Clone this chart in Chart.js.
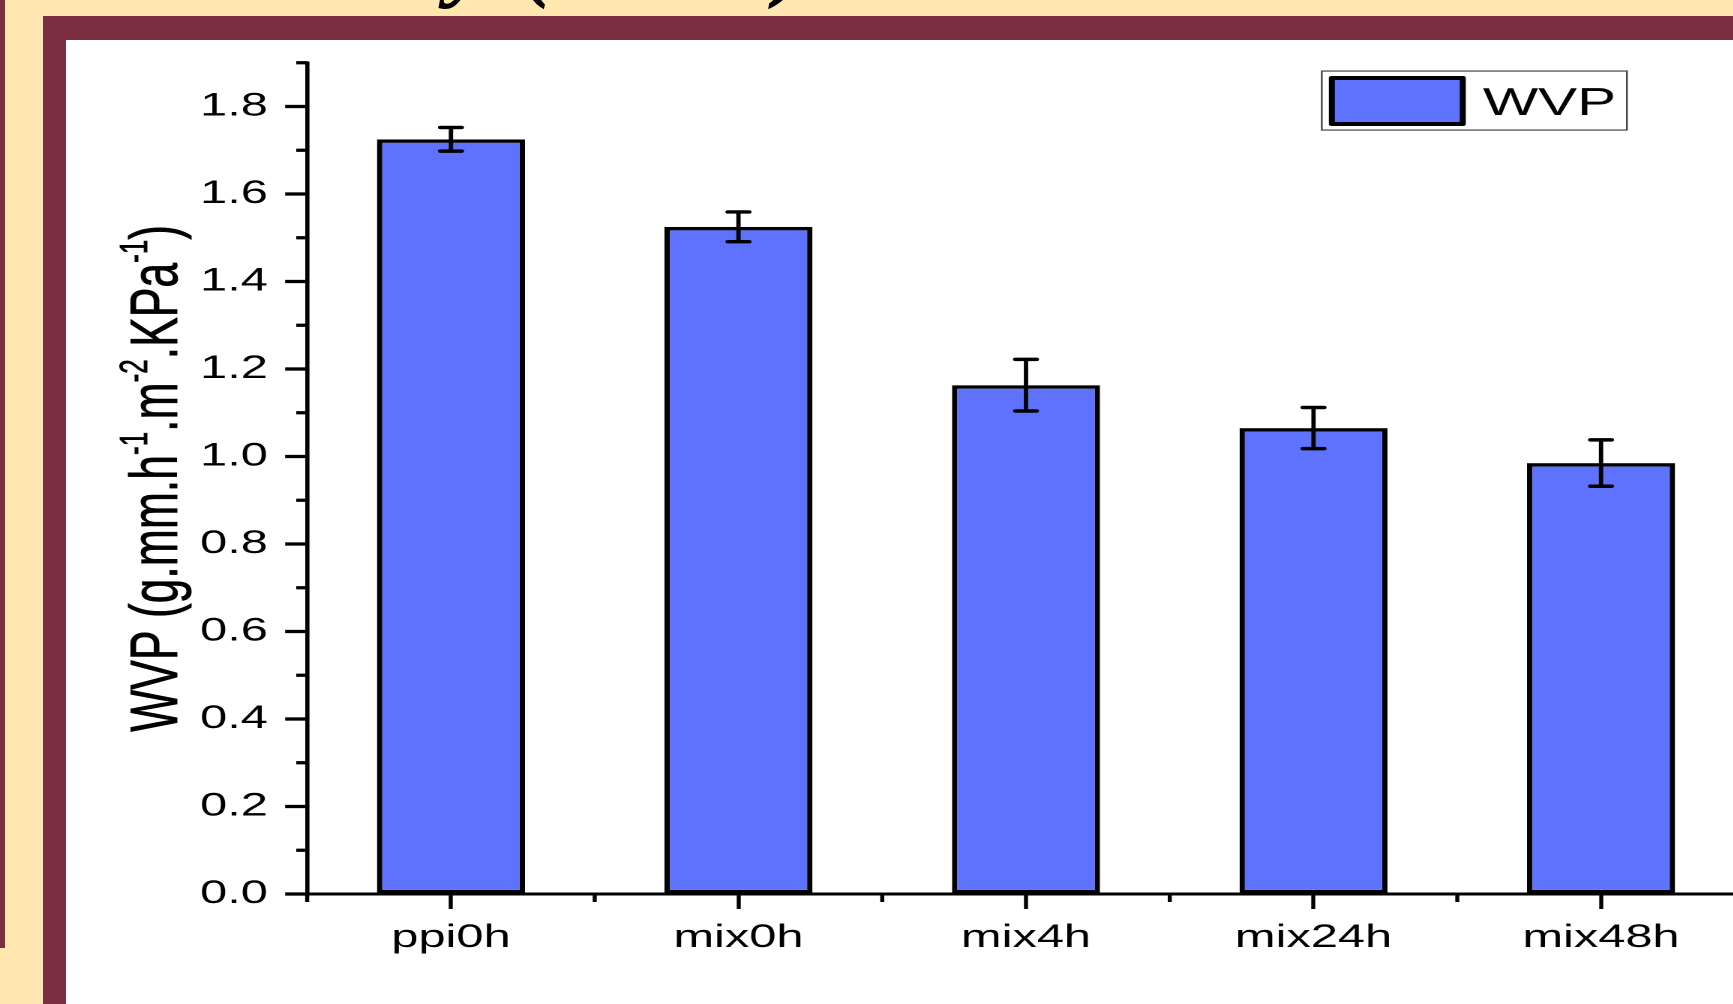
<!DOCTYPE html>
<html>
<head>
<meta charset="utf-8">
<title>WVP</title>
<script src="https://cdn.jsdelivr.net/npm/chart.js@4.4.1/dist/chart.umd.min.js"></script>
<style>
  html, body { margin: 0; padding: 0; background: #FFE7AF; }
  #stage { position: relative; width: 1733px; height: 1004px; overflow: hidden; background: #FFE7AF; }
  .strip { position: absolute; left: 0; top: 0; width: 5px; height: 948px; background: #7A2E41; }
  .frame { position: absolute; left: 43px; top: 16px; right: 0; bottom: 0; background: #7A2E41; }
  .panel { position: absolute; left: 66px; top: 40px; right: 0; bottom: 0; background: #fff; }
  .heading { position: absolute; right: 922px; top: -90px; font: bold italic 95px/95px "Liberation Serif", "Times New Roman", serif; letter-spacing: 4px; white-space: nowrap; color: #000; }
  #plot { position: absolute; left: 0; top: 0; width: 1180px; height: 1004px; transform: scaleX(1.5); transform-origin: 0 0; }
</style>
</head>
<body>
<div id="stage">
  <div class="strip"></div>
  <div class="heading">Permeability (WVP)</div>
  <div class="frame"></div>
  <div class="panel"></div>
  <div id="plot"><canvas id="c" width="1180" height="1004"></canvas></div>
</div>
<script>
// Samples and their water vapour permeability (mean and error)
const categories = ['ppi0h', 'mix0h', 'mix4h', 'mix24h', 'mix48h'];
const seriesName = 'WVP';
const wvp = [1.725, 1.525, 1.163, 1.065, 0.985];
const wvpErr = [0.027, 0.034, 0.059, 0.047, 0.053];

// Axis range and ticks
const yMin = 0;
const yMax = 1.9;
const yTickValues = [0, 0.2, 0.4, 0.6, 0.8, 1.0, 1.2, 1.4, 1.6, 1.8];
const yMinorValues = [0.1, 0.3, 0.5, 0.7, 0.9, 1.1, 1.3, 1.5, 1.7, 1.9];

// Axis title, split so the exponents can be raised
const yTitleParts = [
  { text: 'WVP (g.mm.h' }, { text: '-1', sup: true },
  { text: '.m' }, { text: '-2', sup: true },
  { text: '.KPa' }, { text: '-1', sup: true },
  { text: ')' }
];

const FONT = '"Liberation Sans", Arial, Helvetica, sans-serif';
const barFill = '#5E72FE';

// Whiskers for the error values, placed through the y scale
const errorBars = {
  id: 'errorBars',
  afterDatasetsDraw(chart) {
    const { ctx, scales: { y } } = chart;
    const meta = chart.getDatasetMeta(0);
    ctx.save();
    ctx.strokeStyle = '#000';
    ctx.lineCap = 'round';
    meta.data.forEach((bar, i) => {
      const hi = y.getPixelForValue(wvp[i] + wvpErr[i]);
      const lo = y.getPixelForValue(wvp[i] - wvpErr[i]);
      ctx.lineWidth = 2.9;
      ctx.beginPath();
      ctx.moveTo(bar.x, hi);
      ctx.lineTo(bar.x, lo);
      ctx.stroke();
      ctx.lineWidth = 3.4;
      ctx.beginPath();
      ctx.moveTo(bar.x - 7, hi); ctx.lineTo(bar.x + 7, hi);
      ctx.moveTo(bar.x - 7, lo); ctx.lineTo(bar.x + 7, lo);
      ctx.stroke();
    });
    ctx.restore();
  }
};

// Short ticks: odd tenths on y, category boundaries on x
const minorTicks = {
  id: 'minorTicks',
  afterDraw(chart) {
    const { ctx, chartArea, scales: { x, y } } = chart;
    ctx.save();
    ctx.strokeStyle = '#000';
    ctx.lineWidth = 3.2;
    ctx.beginPath();
    yMinorValues.forEach(v => {
      const py = y.getPixelForValue(v);
      ctx.moveTo(chartArea.left, py);
      ctx.lineTo(chartArea.left - 7.3, py);
    });
    ctx.stroke();
    const step = x.getPixelForValue(1) - x.getPixelForValue(0);
    ctx.lineWidth = 2.7;
    ctx.beginPath();
    for (let i = 0; i <= categories.length; i++) {
      const px = x.getPixelForValue(0) + (i - 0.5) * step;
      ctx.moveTo(px, chartArea.bottom);
      ctx.lineTo(px, chartArea.bottom + 8);
    }
    ctx.stroke();
    ctx.restore();
  }
};

// Rotated y-axis title with superscript exponents
const yTitle = {
  id: 'yTitle',
  afterDraw(chart) {
    const { ctx, chartArea } = chart;
    const mainSize = 44.5, supSize = 26, rise = 20;
    ctx.save();
    ctx.translate(chartArea.left - 86.8, (chartArea.top + chartArea.bottom) / 2);
    ctx.rotate(-Math.PI / 2);
    ctx.fillStyle = '#000';
    ctx.strokeStyle = '#000';
    ctx.lineWidth = 0.5;
    ctx.textBaseline = 'alphabetic';
    ctx.textAlign = 'left';
    const widths = yTitleParts.map(p => {
      ctx.font = `${p.sup ? supSize : mainSize}px ${FONT}`;
      return ctx.measureText(p.text).width;
    });
    const total = widths.reduce((a, b) => a + b, 0);
    let cx = -total / 2;
    yTitleParts.forEach((p, i) => {
      ctx.font = `${p.sup ? supSize : mainSize}px ${FONT}`;
      ctx.fillText(p.text, cx, p.sup ? -rise : 0);
      ctx.strokeText(p.text, cx, p.sup ? -rise : 0);
      cx += widths[i];
    });
    ctx.restore();
  }
};

// Boxed legend in the top-right corner of the plot
const boxLegend = {
  id: 'boxLegend',
  afterDraw(chart) {
    const { ctx, chartArea } = chart;
    const ds = chart.data.datasets[0];
    const bx = chartArea.right - 282, by = chartArea.top + 8.3, bw = 203.4, bh = 59;
    ctx.save();
    ctx.fillStyle = '#fff';
    ctx.fillRect(bx, by, bw, bh);
    ctx.strokeStyle = '#444';
    ctx.lineWidth = 1.2;
    ctx.strokeRect(bx, by, bw, bh);
    const sx = bx + 6.7, sy = by + 7, sw = 87.3, sh = 46;
    ctx.fillStyle = ds.backgroundColor;
    ctx.fillRect(sx, sy, sw, sh);
    ctx.lineJoin = 'round';
    ctx.lineWidth = 4;
    ctx.strokeStyle = ds.borderColor;
    ctx.strokeRect(sx, sy, sw, sh);
    ctx.fillStyle = '#000';
    ctx.font = `39px ${FONT}`;
    ctx.textBaseline = 'alphabetic';
    ctx.textAlign = 'left';
    ctx.fillText(ds.label, bx + 107.4, by + 44);
    ctx.restore();
  }
};

new Chart(document.getElementById('c'), {
  type: 'bar',
  data: {
    labels: categories,
    datasets: [{
      label: seriesName,
      data: wvp,
      backgroundColor: barFill,
      borderColor: '#000',
      borderWidth: 3.6,
      borderSkipped: false,
      barPercentage: 0.515,
      categoryPercentage: 1
    }]
  },
  options: {
    responsive: false,
    animation: false,
    devicePixelRatio: 2,
    layout: { padding: { top: 62.75, left: 0, right: 16.8, bottom: 0 } },
    plugins: { legend: { display: false }, tooltip: { enabled: false } },
    scales: {
      x: {
        offset: true,
        grid: { offset: false, drawOnChartArea: false, tickLength: 15, tickWidth: 2.7, tickColor: '#000' },
        border: { color: '#000', width: 3 },
        ticks: { color: '#000', font: { family: FONT, size: 32.5 }, padding: 9.5, maxRotation: 0, autoSkip: false },
        afterFit: s => { s.height = 110; }
      },
      y: {
        min: yMin,
        max: yMax,
        grid: { drawOnChartArea: false, tickLength: 14.7, tickWidth: 3.3, tickColor: '#000' },
        border: { color: '#000', width: 2.8 },
        ticks: { color: '#000', font: { family: FONT, size: 32.5 }, padding: 11.5, callback: v => Number(v).toFixed(1) },
        afterBuildTicks: s => { s.ticks = yTickValues.map(v => ({ value: v })); },
        afterFit: s => { s.width = 204.8; }
      }
    }
  },
  plugins: [errorBars, minorTicks, yTitle, boxLegend]
});
</script>
</body>
</html>
